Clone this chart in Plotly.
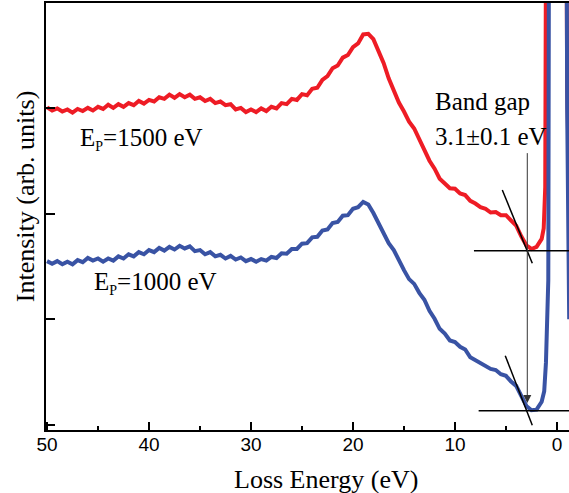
import plotly.graph_objects as go

# ---- data ----
x_main = [50 - 0.5 * i for i in range(98)]  # 50 ... 1.5

red_main = [3.005, 2.975, 2.995, 2.965, 2.985, 2.955, 2.99, 2.97, 3.00, 2.975,
            3.01, 2.99, 3.03, 3.00, 3.035, 3.01, 3.045, 3.025, 3.065, 3.04,
            3.075, 3.06, 3.10, 3.085, 3.125, 3.095, 3.13, 3.10, 3.125, 3.085,
            3.10, 3.065, 3.085, 3.045, 3.06, 3.025, 3.035, 2.985, 3.00, 2.96,
            2.985, 2.96, 2.995, 2.97, 3.01, 2.995, 3.045, 3.035, 3.085, 3.075,
            3.13, 3.12, 3.18, 3.19, 3.265, 3.30, 3.375, 3.40, 3.475, 3.50,
            3.575, 3.61, 3.695, 3.70, 3.65, 3.535, 3.425, 3.28, 3.165, 3.05,
            2.965, 2.87, 2.805, 2.70, 2.615, 2.50, 2.425, 2.33, 2.285, 2.24,
            2.235, 2.19, 2.175, 2.12, 2.095, 2.06, 2.045, 2.01, 2.015, 1.985,
            1.985, 1.935, 1.885, 1.785, 1.70, 1.665, 1.685, 1.76]
red_zlp_x = [1.3, 1.15, 1.0, 0.5, 0.0, -0.5, -0.75, -1.0, -1.2]
red_zlp_y = [1.86, 2.25, 9.0, 30.0, 40.0, 25.0, 9.0, 3.2, 2.2]

blue_main = [1.55, 1.525, 1.55, 1.52, 1.545, 1.52, 1.56, 1.54, 1.58, 1.555,
             1.575, 1.545, 1.575, 1.555, 1.595, 1.575, 1.615, 1.595, 1.635, 1.615,
             1.655, 1.635, 1.675, 1.65, 1.685, 1.66, 1.695, 1.67, 1.69, 1.645,
             1.655, 1.615, 1.635, 1.595, 1.61, 1.575, 1.60, 1.565, 1.585, 1.55,
             1.57, 1.545, 1.57, 1.555, 1.59, 1.58, 1.625, 1.62, 1.665, 1.665,
             1.715, 1.72, 1.775, 1.78, 1.84, 1.85, 1.91, 1.92, 1.98, 1.985,
             2.045, 2.06, 2.11, 2.085, 2.005, 1.905, 1.815, 1.72, 1.655, 1.55,
             1.465, 1.38, 1.335, 1.25, 1.185, 1.08, 1.005, 0.91, 0.865, 0.80,
             0.785, 0.74, 0.715, 0.64, 0.615, 0.58, 0.565, 0.53, 0.52, 0.48,
             0.465, 0.41, 0.37, 0.27, 0.18, 0.14, 0.145, 0.22]
blue_zlp_x = [1.25, 1.08, 0.91, 0.85, 0.7, 0.3, -0.2, -0.6, -0.85, -1.0, -1.2]
blue_zlp_y = [0.32, 0.59, 1.06, 1.37, 9.0, 30.0, 40.0, 20.0, 8.0, 3.0, 1.0]

x_red = x_main + red_zlp_x
y_red = red_main + red_zlp_y
x_blue = x_main + blue_zlp_x
y_blue = blue_main + blue_zlp_y

x_ticks = [50, 40, 30, 20, 10, 0]
y_ticks = [0, 1, 2, 3]

# band-gap construction (data coordinates)
red_base_y = 1.649
blue_base_y = 0.135
red_tangent = ([5.36, 2.42], [2.223, 1.530])
blue_tangent = ([5.07, 2.42], [0.656, -0.003])
gap_x = 2.91
arrow_top_y = 2.586
arrow_tip_y = 0.208

RED = "#EE1C25"
BLUE = "#3953A4"
SERIF = "Liberation Serif"
SANS = "Liberation Sans"
SUB_P = "E<sub><span style='font-size:14px'>P</span></sub>"

fig = go.Figure()
fig.add_trace(go.Scatter(x=x_red, y=y_red, mode="lines",
                         line=dict(color=RED, width=4), showlegend=False))
fig.add_trace(go.Scatter(x=x_blue, y=y_blue, mode="lines",
                         line=dict(color=BLUE, width=4), showlegend=False))

XMAX = -1.18
shapes = [
    dict(type="line", xref="x", yref="y", x0=8.14, x1=XMAX, y0=red_base_y, y1=red_base_y,
         line=dict(color="black", width=1.5)),
    dict(type="line", xref="x", yref="y", x0=7.68, x1=XMAX, y0=blue_base_y, y1=blue_base_y,
         line=dict(color="black", width=1.5)),
    dict(type="line", xref="x", yref="y", x0=red_tangent[0][0], x1=red_tangent[0][1],
         y0=red_tangent[1][0], y1=red_tangent[1][1], line=dict(color="black", width=1.5)),
    dict(type="line", xref="x", yref="y", x0=blue_tangent[0][0], x1=blue_tangent[0][1],
         y0=blue_tangent[1][0], y1=blue_tangent[1][1], line=dict(color="black", width=1.5)),
]

annotations = [
    dict(x=gap_x, y=arrow_tip_y, ax=gap_x, ay=arrow_top_y, xref="x", yref="y",
         axref="x", ayref="y", text="", showarrow=True, arrowhead=2, arrowsize=1.6,
         arrowwidth=1, arrowcolor="#333333"),
    dict(x=12.13, y=3.06, xref="x", yref="y", text="Band gap", showarrow=False,
         xanchor="left", yanchor="middle", font=dict(family=SERIF, size=25, color="black")),
    dict(x=12.13, y=2.73, xref="x", yref="y", text="3.1±0.1 eV", showarrow=False,
         xanchor="left", yanchor="middle", font=dict(family=SERIF, size=25, color="black")),
    dict(x=46.93, y=2.71, xref="x", yref="y", text=SUB_P + "=1500 eV", showarrow=False,
         xanchor="left", yanchor="middle", font=dict(family=SERIF, size=25, color="black")),
    dict(x=45.62, y=1.34, xref="x", yref="y", text=SUB_P + "=1000 eV", showarrow=False,
         xanchor="left", yanchor="middle", font=dict(family=SERIF, size=25, color="black")),
    dict(x=0.535, y=-0.115, xref="paper", yref="paper", text="Loss Energy (eV)",
         showarrow=False, xanchor="center", yanchor="middle",
         font=dict(family=SERIF, size=26, color="black")),
    dict(x=-0.0386, y=0.547, xref="paper", yref="paper", text="Intensity (arb. units)",
         showarrow=False, xanchor="center", yanchor="middle", textangle=-90,
         font=dict(family=SERIF, size=26, color="black")),
]

fig.update_layout(
    width=569, height=493,
    margin=dict(l=46, r=0, t=3, b=63),
    paper_bgcolor="white", plot_bgcolor="white",
    shapes=shapes, annotations=annotations,
    xaxis=dict(range=[50.1, XMAX], tickvals=x_ticks, ticktext=[str(v) for v in x_ticks],
               ticks="inside", ticklen=8, tickwidth=2, tickcolor="black",
               ticklabelstandoff=-4,
               minor=dict(ticks="inside", ticklen=4, tickwidth=2, dtick=5, tick0=0,
                          tickcolor="black", showgrid=False),
               showline=True, linewidth=2, linecolor="black", mirror=True,
               showgrid=False, zeroline=False,
               tickfont=dict(family=SANS, size=19, color="black")),
    yaxis=dict(range=[-0.0473, 3.992], tickvals=y_ticks, showticklabels=False,
               ticks="inside", ticklen=9, tickwidth=2, tickcolor="black",
               showline=True, linewidth=2, linecolor="black", mirror=False,
               showgrid=False, zeroline=False),
)

fig.write_html(
    "out.html",
    config={"displayModeBar": False},
    post_script="document.body.style.margin='0';document.body.style.padding='0';"
                "document.body.style.overflow='hidden';",
)
